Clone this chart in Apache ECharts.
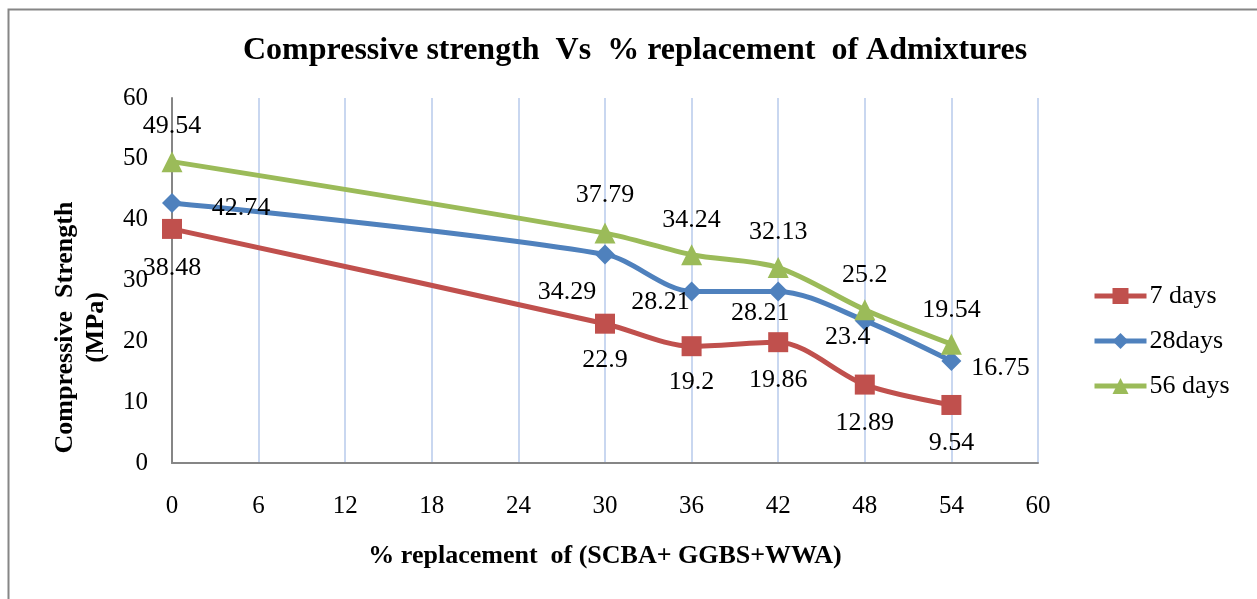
<!DOCTYPE html>
<html>
<head>
<meta charset="utf-8">
<script src="https://cdn.jsdelivr.net/npm/echarts@6/dist/echarts.min.js"></script>
<style>
  html, body { margin: 0; padding: 0; background: #fff; }
  #chart { width: 1257px; height: 599px; }
</style>
</head>
<body>
<div id="chart"></div>
<script>
var replacement = [0, 30, 36, 42, 48, 54];
var days7 = [38.48, 22.9, 19.2, 19.86, 12.89, 9.54];
var days28 = [42.74, 34.29, 28.21, 28.21, 23.4, 16.75];
var days56 = [49.54, 37.79, 34.24, 32.13, 25.2, 19.54];
var xTicks = [0, 6, 12, 18, 24, 30, 36, 42, 48, 54, 60];
var yTicks = [0, 10, 20, 30, 40, 50, 60];

// label offsets (px) from each point
var off7 = [[0, 39], [0, 36], [0, 36], [0, 38], [0, 39], [0, 38]];
var off28 = [[69, 5], [-38, 38], [-31, 11], [-18, 22], [-17, 17], [49, 7]];
var off56 = [[0, -35], [0, -38], [0, -35], [0, -35], [0, -35], [0, -34]];

var font = 'Liberation Serif';

function points(vals, offs) {
	return vals.map(function (v, i) {
		return {
			value: [replacement[i], v],
			label: { offset: offs[i] }
		};
	});
}

function makeSeries(name, vals, offs, color, symbol, size) {
	return {
		name: name,
		type: 'line',
		smooth: 0.3,
		data: points(vals, offs),
		symbol: symbol,
		symbolSize: size,
		lineStyle: { color: color, width: 5 },
		itemStyle: { color: color },
		label: {
			show: true,
			position: 'inside',
			align: 'center',
			verticalAlign: 'middle',
			color: '#000',
			fontFamily: font,
			fontSize: 26,
			formatter: function (p) { return p.value[1]; }
		}
	};
}

var chart = echarts.init(document.getElementById('chart'));
chart.setOption({
	animation: false,
	backgroundColor: '#fff',
	graphic: [{
		type: 'rect',
		left: 6, top: 7,
		shape: { width: 1300, height: 700 },
		style: { fill: 'none', stroke: '#868686', lineWidth: 2 }
	}],
	title: {
		text: 'Compressive strength  Vs  % replacement  of Admixtures',
		left: 238,
		top: 30,
		textStyle: { fontFamily: font, fontSize: 32, fontWeight: 'bold', color: '#000' }
	},
	legend: {
		orient: 'vertical',
		left: 1087,
		top: 278,
		itemWidth: 52,
		itemHeight: 20,
		itemGap: 19,
		data: ['7 days', '28days', '56 days'],
		lineStyle: { width: 5 },
		textStyle: { fontFamily: font, fontSize: 26, color: '#000', padding: [0, 0, 0, -2] }
	},
	grid: { left: 172, right: 219, top: 98, bottom: 136 },
	xAxis: {
		type: 'value',
		min: xTicks[0],
		max: xTicks[xTicks.length - 1],
		interval: 6,
		name: '% replacement  of (SCBA+ GGBS+WWA)',
		nameLocation: 'middle',
		nameGap: 80,
		nameTextStyle: { fontFamily: font, fontSize: 26, fontWeight: 'bold', color: '#000' },
		axisLine: { lineStyle: { color: '#868686', width: 2 } },
		axisTick: { show: false },
		axisLabel: { fontFamily: font, fontSize: 25, color: '#000', margin: 31 },
		splitLine: { show: true, lineStyle: { color: '#c9d7f0', width: 2 } }
	},
	yAxis: {
		type: 'value',
		min: yTicks[0],
		max: yTicks[yTicks.length - 1],
		interval: 10,
		name: 'Compressive  Strength\n(MPa)',
		nameLocation: 'middle',
		nameGap: 59,
		nameTextStyle: {
			fontFamily: font, fontSize: 26, fontWeight: 'bold', color: '#000', lineHeight: 31,
			padding: [0, 94, 0, 0]
		},
		axisLine: { show: true, lineStyle: { color: '#868686', width: 2 } },
		axisTick: { show: false },
		axisLabel: { fontFamily: font, fontSize: 25, color: '#000', margin: 24 },
		splitLine: { show: false }
	},
	series: [
		makeSeries('7 days', days7, off7, '#c0504d', 'rect', 20),
		makeSeries('28days', days28, off28, '#4f81bd', 'diamond', 20),
		makeSeries('56 days', days56, off56, '#9bbb59', 'triangle', 21)
	]
});
</script>
</body>
</html>
